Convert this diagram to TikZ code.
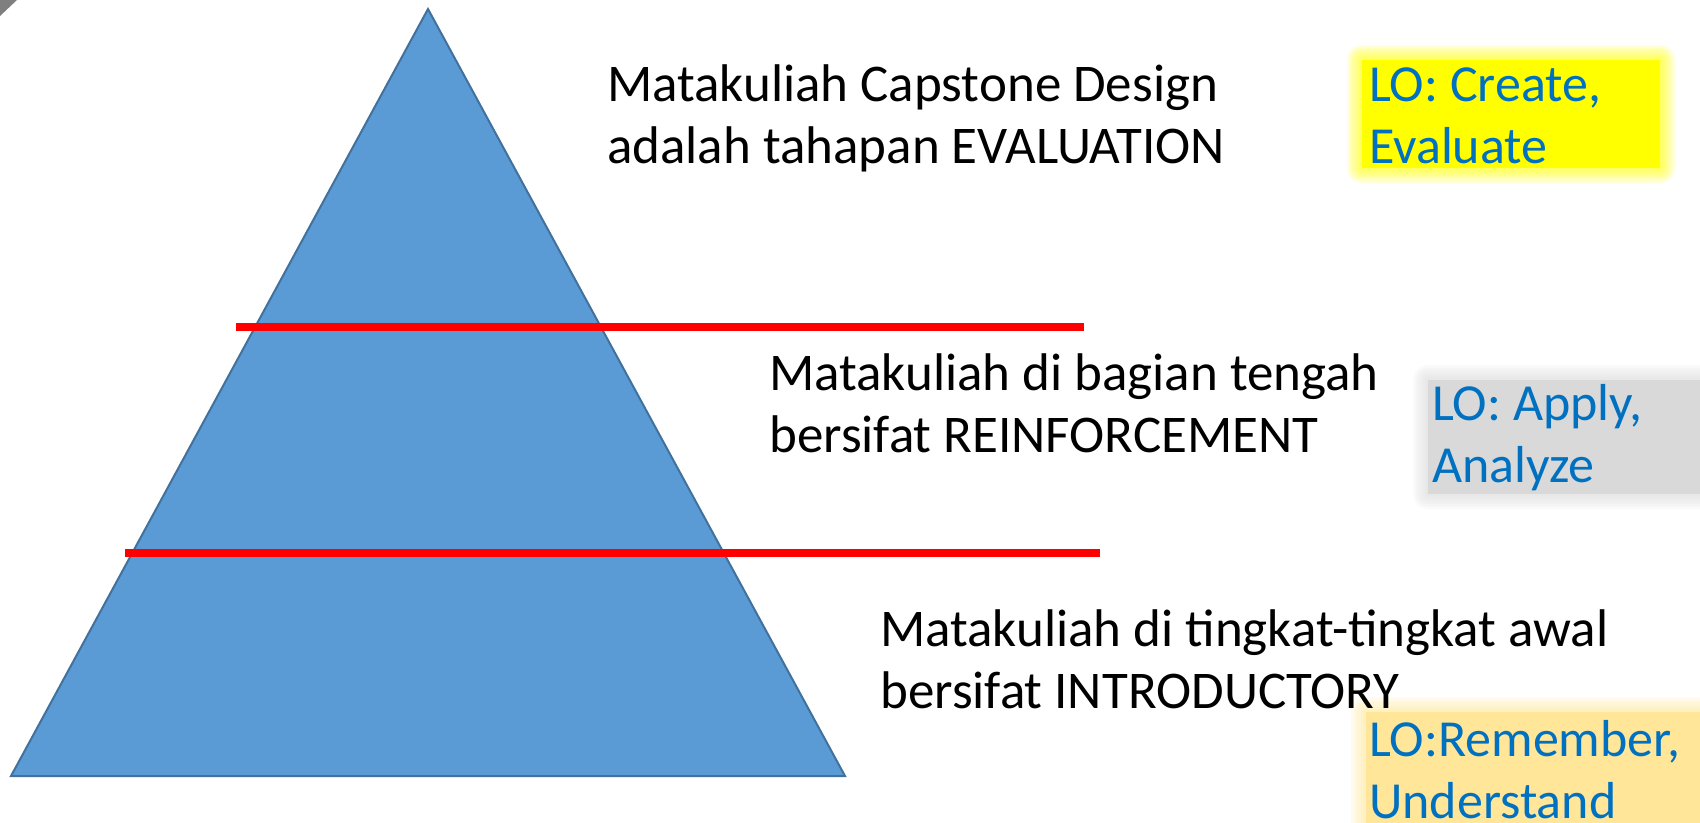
\documentclass[tikz,border=0pt]{standalone}
\usepackage{fontspec}
\setmainfont{Carlito}
\usetikzlibrary{calc}
\definecolor{pyrfill}{HTML}{5B9BD5}
\definecolor{pyrline}{HTML}{41719C}
\definecolor{lotext}{HTML}{0070C0}
\definecolor{glowyellow}{HTML}{FFFF00}
\definecolor{glowgrey}{HTML}{D9D9D9}
\definecolor{glowgold}{HTML}{FFE699}
\definecolor{cornergrey}{HTML}{7F7F7F}
\newcommand\glowbox[3]{%
  \foreach \i in {1,...,6}{%
    \fill[#1, opacity=0.14, rounded corners=\i*2.5pt]
      ($(#2)+(-\i*2.5,-\i*2.5)$) rectangle ($(#3)+(\i*2.5,\i*2.5)$);
  }
  \fill[#1] (#2) rectangle (#3);
}
\begin{document}
\begin{tikzpicture}[x=1pt,y=-1pt,
  body/.style={font=\fontsize{53}{62}\selectfont, text=black, anchor=base west, inner sep=0pt, align=left},
  lotxt/.style={font=\fontsize{52}{62}\selectfont, text=lotext, anchor=base west, inner sep=0pt, align=left},
  redline/.style={draw=red, line width=7.5pt},
  pyr/.style={fill=pyrfill, draw=pyrline, line width=2pt, line join=miter},
]
\useasboundingbox (0,0) rectangle (1700,822);
% corner mark
\fill[cornergrey] (0,0) -- (17,0) -- (0,16) -- cycle;
% pyramid
\draw[pyr] (428,9) -- (845,776) -- (11,776) -- cycle;
% red dividers
\coordinate (r1a) at (236,327);
\coordinate (r1b) at (1084,327);
\coordinate (r2a) at (125,553);
\coordinate (r2b) at (1100,553);
\draw[redline] (r1a) -- (r1b);
\draw[redline] (r2a) -- (r2b);
% glow boxes
\glowbox{glowyellow}{1362,60}{1660,168}
\glowbox{glowgrey}{1428,380}{1712,494}
\glowbox{glowgold}{1366,712}{1712,830}
% texts (anchor = baseline of the last line)
\node[body] (t1) at (607,163) {Matakuliah Capstone Design\\adalah tahapan EVALUATION};
\node[body] (t2) at (769,452) {Matakuliah di bagian tengah\\bersifat REINFORCEMENT};
\node[body] (t3) at (880,708) {Matakuliah di tingkat-tingkat awal\\bersifat INTRODUCTORY};
\node[lotxt] (lo1) at (1369,163) {LO: Create,\\Evaluate};
\node[lotxt] (lo2) at (1432,482) {LO: Apply,\\Analyze};
\node[lotxt] (lo3) at (1369,818) {LO:Remember,\\Understand};
\end{tikzpicture}
\end{document}
